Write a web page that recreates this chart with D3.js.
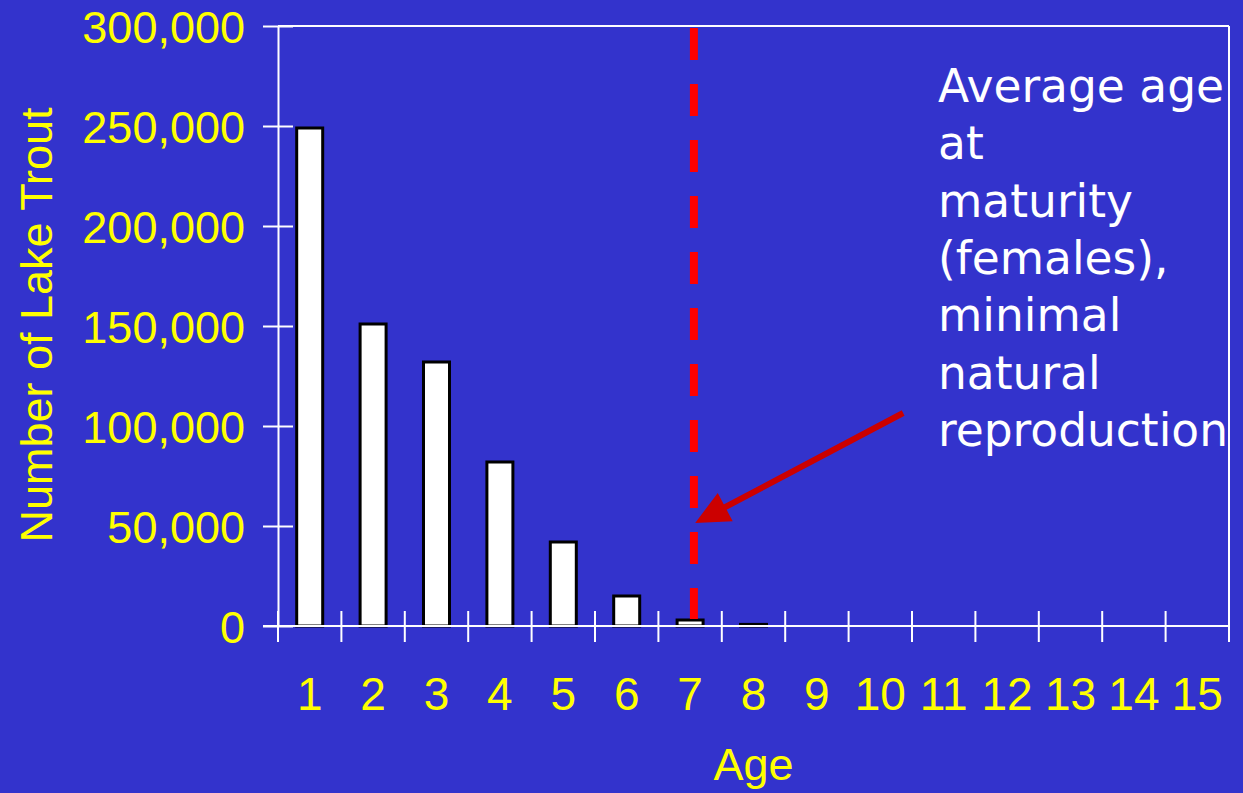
<!DOCTYPE html>
<html>
<head>
<meta charset="utf-8">
<script src="https://cdn.jsdelivr.net/npm/d3@7"></script>
<style>
  html, body { margin: 0; padding: 0; background: #3333CC; }
  svg { display: block; }
</style>
</head>
<body>
<svg id="chart" width="1243" height="793"></svg>
<script>
// ---- data ----
const ages = [1, 2, 3, 4, 5, 6, 7, 8, 9, 10, 11, 12, 13, 14, 15];
const counts = [249000, 151000, 132000, 82000, 42000, 15000, 3000, 800, 0, 0, 0, 0, 0, 0, 0];
const yTicks = [0, 50000, 100000, 150000, 200000, 250000, 300000];
const maturityAge = 7.06;
const annotationLines = ["Average age", "at", "maturity", "(females),", "minimal", "natural", "reproduction"];
const arrowFrom = { age: 10.36, value: 106500 };
const arrowTo = { age: 7.08, value: 51500 };

(function () {
// ---- layout ----
const W = 1243, H = 793;
const pL = 278, pR = 1229, pT = 26, pB = 626;
const bg = "#3333CC", yellow = "#FFFF00", white = "#FFFFFF";

const svg = d3.select("#chart");
svg.append("rect").attr("width", W).attr("height", H).attr("fill", bg);

const x = d3.scaleBand().domain(ages).range([pL, pR]).paddingInner(0.59).paddingOuter(0.295);
const xLin = d3.scaleLinear().domain([0.5, 15.5]).range([pL, pR]);
const y = d3.scaleLinear().domain([0, 300000]).range([pB, pT]);

// bars
svg.append("g").selectAll("rect").data(counts.map((v, i) => ({ age: ages[i], v })).filter(d => d.v > 0))
  .join("rect")
  .attr("x", d => x(d.age))
  .attr("y", d => y(d.v))
  .attr("width", x.bandwidth())
  .attr("height", d => pB - y(d.v))
  .attr("fill", white)
  .attr("stroke", "#000")
  .attr("stroke-width", 3);

// frame: top and right
svg.append("line").attr("x1", pL).attr("x2", pR).attr("y1", pT).attr("y2", pT)
  .attr("stroke", white).attr("stroke-width", 2);
svg.append("line").attr("x1", pR).attr("x2", pR).attr("y1", pT).attr("y2", pB + 16)
  .attr("stroke", white).attr("stroke-width", 2);

// y axis
const yAxis = d3.axisLeft(y).tickValues(yTicks).tickSizeInner(15).tickSizeOuter(0)
  .tickFormat(d3.format(","));
const gy = svg.append("g").attr("transform", `translate(${pL},0)`).call(yAxis);
gy.select(".domain").attr("stroke", white).attr("stroke-width", 2);
gy.selectAll(".tick line").attr("stroke", white).attr("stroke-width", 2).attr("x1", 15);
gy.selectAll(".tick text").attr("fill", yellow).attr("font-family", "Liberation Sans, Arial, sans-serif")
  .attr("font-size", 45).attr("x", -33).attr("dy", "0.36em");

// x axis: ticks at band boundaries
const xBounds = d3.range(0.5, 15.51, 1);
const gx = svg.append("g");
gx.append("line").attr("x1", pL - 15).attr("x2", pR).attr("y1", pB).attr("y2", pB)
  .attr("stroke", white).attr("stroke-width", 2);
gx.selectAll("line.tk").data(xBounds).join("line").attr("class", "tk")
  .attr("x1", d => xLin(d)).attr("x2", d => xLin(d))
  .attr("y1", pB - 15).attr("y2", pB + 16)
  .attr("stroke", white).attr("stroke-width", 2);
gx.selectAll("text").data(ages).join("text")
  .attr("x", d => x(d) + x.bandwidth() / 2)
  .attr("y", 710)
  .attr("text-anchor", "middle")
  .attr("fill", yellow)
  .attr("font-family", "Liberation Sans, Arial, sans-serif")
  .attr("font-size", 46)
  .text(d => d);

// axis titles
svg.append("text").attr("x", (pL + pR) / 2).attr("y", 780).attr("text-anchor", "middle")
  .attr("fill", yellow).attr("font-family", "Liberation Sans, Arial, sans-serif").attr("font-size", 45)
  .text("Age");
svg.append("text").attr("transform", `translate(52,${(107 + 543) / 2}) rotate(-90)`)
  .attr("text-anchor", "middle")
  .attr("fill", yellow).attr("font-family", "Liberation Sans, Arial, sans-serif").attr("font-size", 45)
  .text("Number of Lake Trout");

// red dashed maturity line
svg.append("line")
  .attr("x1", xLin(maturityAge)).attr("x2", xLin(maturityAge))
  .attr("y1", pT + 2).attr("y2", y(counts[6]) - 1)
  .attr("stroke", "#FF0000").attr("stroke-width", 8)
  .attr("stroke-dasharray", "32,24");

// arrow
const ax1 = xLin(arrowFrom.age), ay1 = y(arrowFrom.value);
const ax2 = xLin(arrowTo.age), ay2 = y(arrowTo.value);
const dx = ax2 - ax1, dy = ay2 - ay1, len = Math.hypot(dx, dy);
const ux = dx / len, uy = dy / len;
const headLen = 34, headHalf = 16;
const bx = ax2 - ux * headLen, by = ay2 - uy * headLen;
svg.append("line").attr("x1", ax1).attr("y1", ay1).attr("x2", bx + ux * 4).attr("y2", by + uy * 4)
  .attr("stroke", "#CC0000").attr("stroke-width", 6);
svg.append("path")
  .attr("d", d3.line()([[ax2, ay2], [bx - uy * headHalf, by + ux * headHalf], [bx + uy * headHalf, by - ux * headHalf]]) + "Z")
  .attr("fill", "#CC0000");

// annotation text
const ann = svg.append("text").attr("fill", white)
  .attr("font-family", "DejaVu Sans, Verdana, sans-serif").attr("font-size", 45.5);
annotationLines.forEach((t, i) => {
  ann.append("tspan").attr("x", 938).attr("y", 102 + i * 57.3).text(t);
});
})();
</script>
</body>
</html>
